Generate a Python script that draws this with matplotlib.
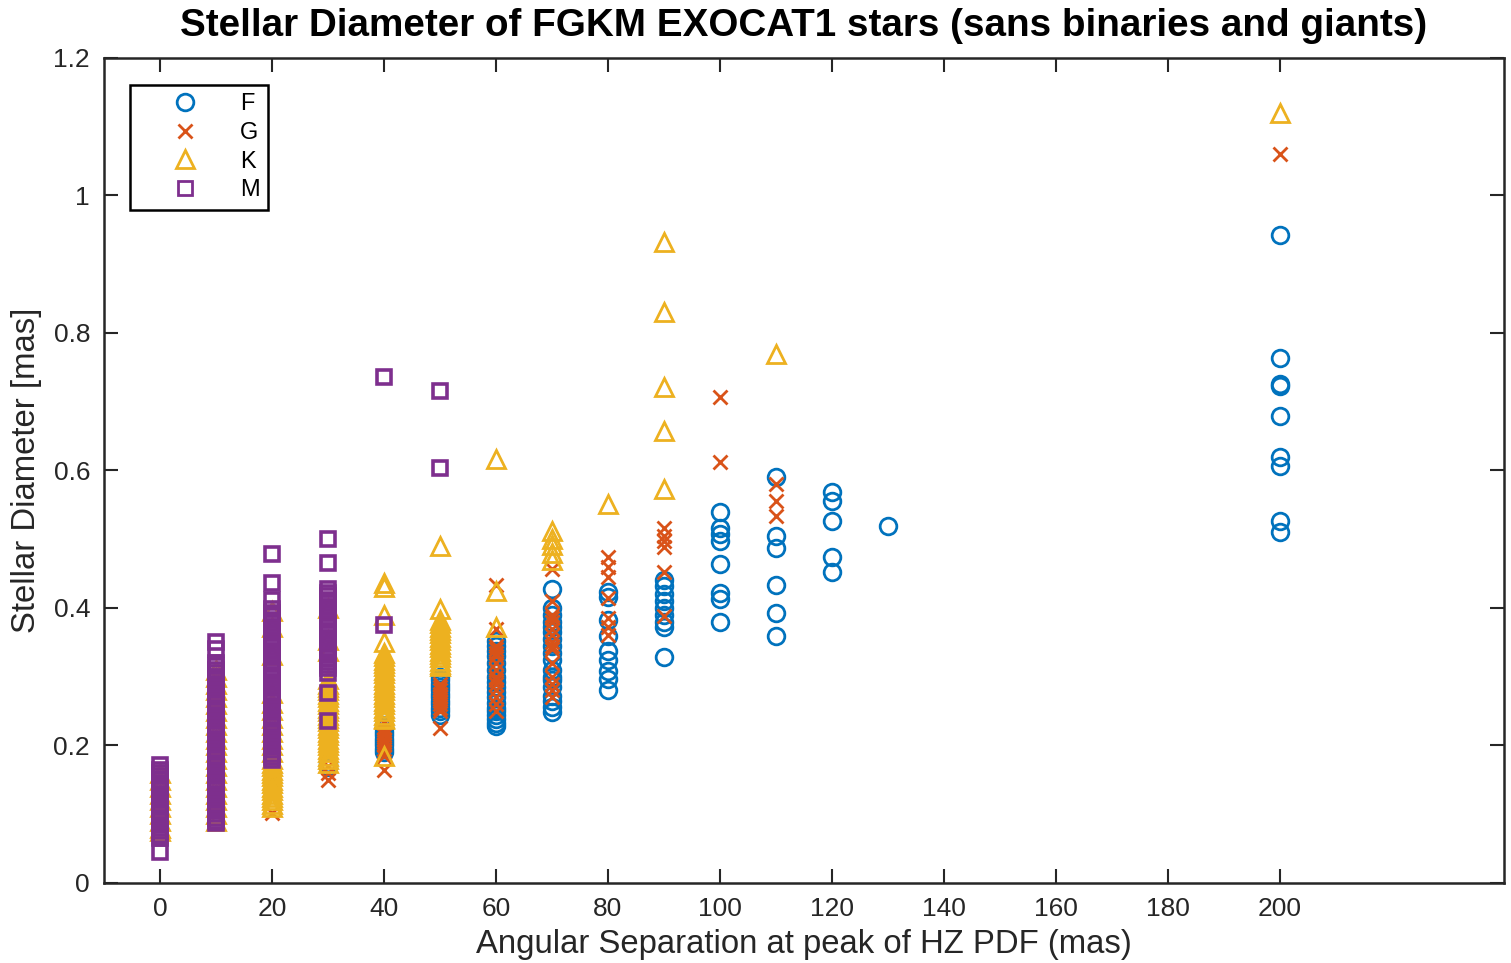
import numpy as np
import matplotlib
matplotlib.use('Agg')
import matplotlib.pyplot as plt

plt.rcParams['font.family'] = ['Liberation Sans', 'DejaVu Sans']

# angular separation bins (mas) and the stellar diameters (mas) found in each bin
sep_bins = [0, 10, 20, 30, 40, 50, 60, 70, 80, 90, 100, 110, 120, 130, 200]

diam_F = [
    [], [], [],
    [0.168, 0.175],
    [0.19, 0.195, 0.20, 0.205, 0.21, 0.215, 0.22, 0.225, 0.23],
    [0.245, 0.25, 0.255, 0.26, 0.265, 0.27, 0.275, 0.28, 0.285, 0.29, 0.295, 0.30],
    [0.228, 0.232, 0.238, 0.245, 0.25, 0.255, 0.262, 0.27, 0.278, 0.285,
     0.293, 0.30, 0.31, 0.32, 0.33, 0.338, 0.345, 0.352],
    [0.248, 0.256, 0.265, 0.272, 0.285, 0.295, 0.30, 0.31, 0.325, 0.335,
     0.345, 0.355, 0.365, 0.372, 0.38, 0.39, 0.40, 0.427],
    [0.423, 0.416, 0.383, 0.359, 0.337, 0.325, 0.308, 0.296, 0.281],
    [0.441, 0.432, 0.42, 0.41, 0.40, 0.39, 0.38, 0.373, 0.328],
    [0.539, 0.517, 0.507, 0.497, 0.464, 0.422, 0.413, 0.379],
    [0.59, 0.504, 0.487, 0.434, 0.392, 0.359],
    [0.568, 0.556, 0.526, 0.474, 0.452],
    [0.519],
    [0.943, 0.764, 0.726, 0.723, 0.679, 0.62, 0.607, 0.527, 0.51],
]

diam_G = [
    [0.09, 0.12, 0.15],
    [0.12, 0.18, 0.25, 0.30],
    [0.102, 0.15, 0.20],
    [0.15, 0.16, 0.17],
    [0.165, 0.185, 0.19, 0.195, 0.20, 0.205, 0.21, 0.215, 0.22, 0.225, 0.233],
    [0.226, 0.25, 0.255, 0.26, 0.265, 0.27, 0.275, 0.28, 0.285, 0.29],
    [0.434, 0.37, 0.345, 0.34, 0.335, 0.33, 0.32, 0.31, 0.30, 0.295, 0.29,
     0.28, 0.27, 0.26, 0.25],
    [0.456, 0.41, 0.39, 0.385, 0.38, 0.37, 0.36, 0.35, 0.345, 0.34, 0.32,
     0.30, 0.29, 0.28, 0.27],
    [0.474, 0.46, 0.445, 0.415, 0.385, 0.372, 0.36],
    [0.517, 0.505, 0.497, 0.488, 0.453, 0.388],
    [0.707, 0.612],
    [0.58, 0.556, 0.534],
    [], [],
    [1.06],
]

diam_K = [
    [0.075, 0.08, 0.09, 0.10, 0.11, 0.12, 0.13, 0.14, 0.15, 0.16],
    [0.09, 0.10, 0.11, 0.12, 0.13, 0.14, 0.15, 0.16, 0.17, 0.18, 0.19, 0.20,
     0.21, 0.22, 0.23, 0.24, 0.25, 0.26, 0.27, 0.28, 0.29, 0.30, 0.31],
    [0.395, 0.373, 0.332, 0.277, 0.262, 0.252, 0.24, 0.23, 0.22, 0.21, 0.20,
     0.19, 0.18, 0.175, 0.17, 0.165, 0.16, 0.155, 0.15, 0.145, 0.14, 0.135,
     0.13, 0.125, 0.12, 0.115, 0.111],
    [0.40, 0.354, 0.337, 0.296, 0.29, 0.285, 0.28, 0.275, 0.27, 0.265, 0.26,
     0.255, 0.25, 0.245, 0.24, 0.235, 0.23, 0.225, 0.22, 0.215, 0.21, 0.205,
     0.20, 0.195, 0.19, 0.185, 0.18, 0.175],
    [0.437, 0.43, 0.39, 0.35, 0.335, 0.33, 0.325, 0.32, 0.315, 0.31, 0.305,
     0.30, 0.295, 0.29, 0.285, 0.28, 0.275, 0.27, 0.265, 0.26, 0.255, 0.25,
     0.245, 0.24, 0.238, 0.184],
    [0.49, 0.398, 0.383, 0.378, 0.373, 0.368, 0.363, 0.358, 0.353, 0.348,
     0.343, 0.338, 0.333, 0.328, 0.323, 0.318, 0.315],
    [0.617, 0.424, 0.372],
    [0.512, 0.50, 0.492, 0.48, 0.47],
    [0.551],
    [0.933, 0.831, 0.721, 0.657, 0.573],
    [],
    [0.77],
    [], [],
    [1.12],
]

diam_M = [
    [0.045, 0.066, 0.07, 0.075, 0.08, 0.085, 0.09, 0.095, 0.10, 0.105, 0.11,
     0.115, 0.12, 0.125, 0.13, 0.135, 0.14, 0.145, 0.15, 0.155, 0.16, 0.165,
     0.172],
    [0.087, 0.09, 0.095, 0.10, 0.105, 0.11, 0.115, 0.12, 0.125, 0.13, 0.135,
     0.14, 0.145, 0.15, 0.155, 0.16, 0.165, 0.17, 0.175, 0.18, 0.185, 0.19,
     0.195, 0.20, 0.205, 0.21, 0.215, 0.22, 0.225, 0.23, 0.235, 0.24, 0.245,
     0.25, 0.255, 0.26, 0.265, 0.27, 0.275, 0.28, 0.285, 0.29, 0.295, 0.30,
     0.305, 0.31, 0.315, 0.32, 0.34, 0.35],
    [0.478, 0.437, 0.412, 0.398, 0.393, 0.388, 0.383, 0.378, 0.373, 0.368,
     0.363, 0.358, 0.353, 0.348, 0.343, 0.338, 0.333, 0.328, 0.323, 0.318,
     0.313, 0.308, 0.303, 0.298, 0.293, 0.288, 0.283, 0.278, 0.273, 0.268,
     0.263, 0.258, 0.253, 0.248, 0.243, 0.238, 0.233, 0.228, 0.223, 0.218,
     0.213, 0.208, 0.203, 0.198, 0.193, 0.188, 0.183, 0.179],
    [0.50, 0.466, 0.427, 0.422, 0.417, 0.412, 0.407, 0.402, 0.397, 0.392,
     0.387, 0.382, 0.377, 0.372, 0.367, 0.362, 0.357, 0.352, 0.347, 0.342,
     0.337, 0.332, 0.327, 0.322, 0.317, 0.312, 0.306, 0.277, 0.235],
    [0.736, 0.375],
    [0.716, 0.603],
    [], [], [], [], [], [], [], [],
    [],
]

classes = ['F', 'G', 'K', 'M']
class_diams = [diam_F, diam_G, diam_K, diam_M]
colors = ['#0072BD', '#D95319', '#EDB120', '#7E2F8E']
markers = ['o', 'x', '^', 's']
msizes = [12, 10.5, 13, 9.5]
edge_widths = [2.0, 2.0, 2.0, 2.6]

fig = plt.figure(figsize=(15.11, 9.63), dpi=100)
ax = fig.add_axes([0.0688, 0.0831, 0.9266, 0.8567])

for name, diams, c, m, ms, ew in zip(classes, class_diams, colors, markers,
                                     msizes, edge_widths):
    xs = np.concatenate([[s] * len(d) for s, d in zip(sep_bins, diams)])
    ys = np.concatenate([d for d in diams])
    ax.plot(xs, ys, linestyle='none', marker=m, markersize=ms,
            markerfacecolor='none', markeredgecolor=c, markeredgewidth=ew,
            label=name)

ax.set_xlim(-10, 240)
ax.set_ylim(0, 1.2)
ax.set_xticks(range(0, 201, 20))
ax.set_yticks([0, 0.2, 0.4, 0.6, 0.8, 1.0, 1.2])
ax.set_yticklabels(['0', '0.2', '0.4', '0.6', '0.8', '1', '1.2'])

dark = '#262626'
for sp in ax.spines.values():
    sp.set_linewidth(1.8)
    sp.set_color(dark)
ax.tick_params(direction='in', length=10, width=1.5, colors=dark,
               labelsize=19, top=True, right=True, pad=10)

ax.set_xlabel('Angular Separation at peak of HZ PDF (mas)', fontsize=23.7,
              color=dark, labelpad=6)
ax.set_ylabel('Stellar Diameter [mas]', fontsize=23.7, color=dark, labelpad=8)
ax.set_title('Stellar Diameter of FGKM EXOCAT1 stars (sans binaries and giants)',
             fontsize=27.8, fontweight='bold', pad=16)

leg = ax.legend(loc='upper left', bbox_to_anchor=(0.0186, 0.967),
                borderaxespad=0, fontsize=17, numpoints=1, fancybox=False,
                edgecolor='black', framealpha=1, handlelength=4.0,
                handletextpad=0.3, borderpad=0.35, labelspacing=0.28)
leg.get_frame().set_linewidth(1.8)
for h in leg.legend_handles:
    h.set_markeredgewidth(2.0)

fig.savefig('out.png', dpi=100)
